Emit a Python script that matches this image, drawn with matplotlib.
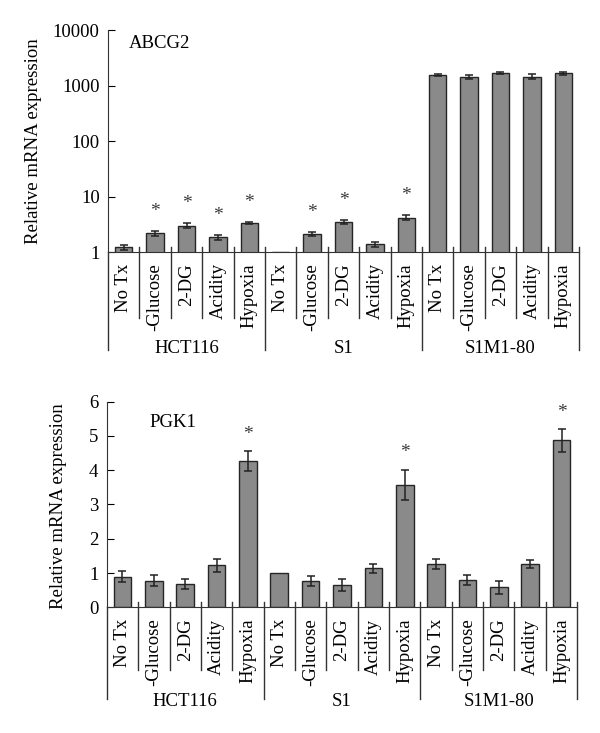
import numpy as np
import matplotlib
matplotlib.use("Agg")
import matplotlib.pyplot as plt
import matplotlib.transforms as mtransforms

plt.rcParams['font.family'] = ['Liberation Serif', 'DejaVu Serif']
plt.rcParams['font.size'] = 13.5

groups = ["HCT116", "S1", "S1M1-80"]
treatments = ["No Tx", "-Glucose", "2-DG", "Acidity", "Hypoxia"]

# ABCG2 (log scale)
abcg2_mean = [1.22, 2.2, 3.0, 1.85, 3.35,
              1.0, 2.15, 3.55, 1.38, 4.2,
              1550, 1450, 1680, 1450, 1670]
abcg2_err = [0.12, 0.22, 0.3, 0.2, 0.2,
             0.0, 0.18, 0.3, 0.15, 0.4,
             90, 110, 90, 140, 100]
abcg2_sig = [False, True, True, True, True,
             False, True, True, False, True,
             False, False, False, False, False]

# PGK1 (linear)
pgk1_mean = [0.89, 0.78, 0.67, 1.22, 4.27,
             1.0, 0.76, 0.65, 1.14, 3.58,
             1.26, 0.79, 0.58, 1.26, 4.87]
pgk1_err = [0.16, 0.15, 0.15, 0.2, 0.28,
            0.0, 0.15, 0.17, 0.13, 0.44,
            0.15, 0.14, 0.19, 0.11, 0.33]
pgk1_sig = [False, False, False, False, True,
            False, False, False, False, True,
            False, False, False, False, True]

bar_color = "#8a8a8a"
edge_color = "#262626"

fig = plt.figure(figsize=(6, 7.33), dpi=100)
ax1 = fig.add_axes([0.18, 0.656, 0.785, 0.303])
ax2 = fig.add_axes([0.178, 0.1715, 0.784, 0.2805])


def draw_panel(ax, mean, err, sig, ax_h_px, group_drop, tick_drop, glabel_y, star_off):
    x = np.arange(len(mean))
    errs = np.array(err)
    ax.bar(x, mean, width=0.56, color=bar_color, edgecolor=edge_color, linewidth=1.0, zorder=2)
    has_err = errs > 0
    ax.errorbar(x[has_err], np.array(mean)[has_err], yerr=errs[has_err], fmt='none',
                ecolor="#222222", elinewidth=1.1, capsize=3, capthick=1.1, zorder=3)
    for i in range(len(mean)):
        if sig[i]:
            ax.annotate("*", xy=(i, mean[i] + err[i]), xytext=(0, star_off),
                        textcoords='offset points', ha='center', va='center',
                        fontsize=14, color="#3a3a3a")

    ax.set_xlim(-0.5, len(mean) - 0.5)
    ax.spines['top'].set_visible(False)
    ax.spines['right'].set_visible(False)
    ax.set_xticks(x)
    ax.set_xticklabels(treatments * len(groups), rotation=90)
    ax.tick_params(axis='x', length=0, pad=8)
    ax.tick_params(axis='y', direction='in', length=5, pad=6)

    # separators below the axis
    trans = mtransforms.blended_transform_factory(ax.transData, ax.transAxes)
    up = 5 / ax_h_px
    for k in range(len(mean) + 1):
        pos = k - 0.5
        if k % len(treatments) == 0:
            y0, y1 = up if k > 0 else 0, -group_drop / ax_h_px
        else:
            y0, y1 = up, -tick_drop / ax_h_px
        ax.plot([pos, pos], [y0, y1], color="#333333", lw=1.0, transform=trans,
                clip_on=False, zorder=4)
    for g, name in enumerate(groups):
        ax.text(g * len(treatments) + 2, glabel_y, name, transform=trans,
                ha='center', va='center')


draw_panel(ax1, abcg2_mean, abcg2_err, abcg2_sig, 222, 98, 66, -0.432, 14)
ax1.set_yscale('log')
ax1.set_ylim(1, 10000)
ax1.set_yticks([1, 10, 100, 1000, 10000])
ax1.set_yticklabels(["1", "10", "100", "1000", "10000"])
ax1.yaxis.set_minor_locator(matplotlib.ticker.NullLocator())
ax1.text(0.11, 0.94, "ABCG2", transform=ax1.transAxes, ha='center', va='center')
ax1.set_ylabel("Relative mRNA expression")
ax1.yaxis.set_label_coords(-0.14, 0.5)

draw_panel(ax2, pgk1_mean, pgk1_err, pgk1_sig, 205.6, 92, 63, -0.46, 12)
ax2.set_ylim(0, 6)
ax2.set_yticks(range(7))
ax2.text(0.14, 0.898, "PGK1", transform=ax2.transAxes, ha='center', va='center')
ax2.set_ylabel("Relative mRNA expression")
ax2.yaxis.set_label_coords(-0.085, 0.49)

for ax in (ax1, ax2):
    for sp in ax.spines.values():
        sp.set_color("#333333")

fig.savefig("out.png", dpi=100)
